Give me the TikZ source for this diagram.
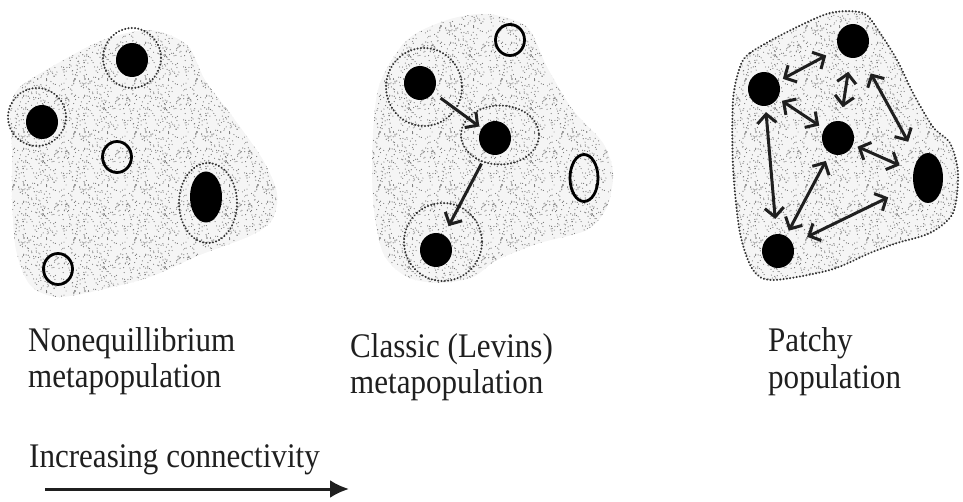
\documentclass[tikz,border=0pt]{standalone}
\usepackage{fontspec}
\setmainfont[FakeStretch=0.9]{Liberation Serif}
\usetikzlibrary{arrows.meta,shapes.geometric,patterns}

% a tile of scattered fine dots, used as the habitat texture
\pgfdeclarepatternformonly{speckle}{\pgfpointorigin}{\pgfpoint{61pt}{53pt}}{\pgfpoint{61pt}{53pt}}{%
  \pgfmathsetseed{5}%
  \foreach \k in {1,...,230}{%
    \pgfmathsetmacro\sx{rnd*61}%
    \pgfmathsetmacro\sy{rnd*53}%
    \pgfpathcircle{\pgfpoint{\sx pt}{\sy pt}}{0.6pt}%
    \pgfusepath{fill}}}

\tikzset{
  habitat/.style={fill=black!4},
  speck/.style={pattern=speckle, pattern color=black!55},
  patchfull/.style={ellipse, fill=black, inner sep=0pt,
    minimum width=32pt, minimum height=34pt},
  patchempty/.style={ellipse, draw=black, line width=2.8pt, inner sep=0pt,
    minimum width=29pt, minimum height=31pt},
  ringdot/.style={draw=black!80, line width=2.2pt,
    dash pattern=on 0.1pt off 3.2pt, line cap=round},
  barb/.tip={Straight Barb[length=9pt,width=19pt,line width=3pt]},
  flow/.style={-barb, line width=3pt, draw=black!88},
  flowboth/.style={barb-barb, line width=3pt, draw=black!88},
  caption/.style={anchor=base west, align=left, inner sep=0pt,
    text=black!88, font=\fontsize{34.5}{36}\selectfont},
}

\begin{document}
\begin{tikzpicture}[x=1pt,y=-1pt]
\useasboundingbox (0,0) rectangle (963,502);

% ---------- left panel: nonequilibrium metapopulation ----------
\def\blobA{(20,87) (60,62) (103,40) (150,30) (187,45) (205,80) (235,120)
  (263,160) (277,193) (272,220) (250,236) (200,255) (150,277) (100,290)
  (57,297) (30,285) (16,250) (12,200) (12,150) (10,110)}
\fill[habitat] plot[smooth cycle] coordinates {\blobA};
\fill[speck] plot[smooth cycle] coordinates {\blobA};

\draw[ringdot] (132,58) circle[x radius=29, y radius=30];
\draw[ringdot] (37,117) circle[x radius=29, y radius=29];
\draw[ringdot] (208,203) circle[x radius=29, y radius=40];

\node[patchfull] (a1) at (132,60) {};
\node[patchfull] (a2) at (42,122) {};
\node[patchfull, minimum height=51pt] (a3) at (206,197) {};
\node[patchempty] (a4) at (117,157) {};
\node[patchempty] (a5) at (58,269) {};

% ---------- middle panel: classic (Levins) metapopulation ----------
\def\blobB{(447,20) (487,14) (527,27) (547,67) (573,110) (603,143)
  (613,173) (607,207) (587,230) (540,243) (497,260) (473,277) (440,283)
  (407,277) (383,253) (373,200) (373,133) (380,83) (407,40)}
\fill[habitat] plot[smooth cycle] coordinates {\blobB};
\fill[speck] plot[smooth cycle] coordinates {\blobB};

\draw[ringdot] (424,87) circle[x radius=38, y radius=39];
\draw[ringdot] (500,135) circle[x radius=39, y radius=29.5];
\draw[ringdot] (443,242) circle[x radius=39, y radius=39];

\node[patchempty] (b0) at (510,40) {};
\node[patchfull] (b1) at (420,83) {};
\node[patchfull] (b2) at (495,138) {};
\node[patchfull] (b3) at (436,250) {};
\node[patchempty, minimum width=28pt, minimum height=47pt] (b4) at (584,178) {};

\draw[flow, shorten <=9pt, shorten >=3pt] (b1) -- (b2);
\draw[flow, shorten <=12pt, shorten >=10pt] (b2) -- (b3);

% ---------- right panel: patchy population ----------
\def\blobC{(740,67) (750,53) (787,32) (830,13) (863,13) (878,30) (897,60)
  (913,93) (933,127) (950,143) (958,173) (953,213) (930,233) (897,243)
  (870,253) (830,270) (773,280) (753,270) (740,233) (733,167) (733,100)}
\fill[habitat] plot[smooth cycle] coordinates {\blobC};
\fill[speck] plot[smooth cycle] coordinates {\blobC};
\draw[ringdot] plot[smooth cycle] coordinates {\blobC};

\node[patchfull] (c1) at (853,41) {};
\node[patchfull] (c2) at (764,89) {};
\node[patchfull] (c3) at (838,138) {};
\node[patchfull, minimum width=30pt, minimum height=50pt] (c4) at (928,178) {};
\node[patchfull] (c5) at (778,251) {};

\draw[flowboth, shorten <=5pt,  shorten >=14pt] (c2) -- (c1);
\draw[flowboth, shorten <=14pt, shorten >=14pt] (c1) -- (c3);
\draw[flowboth, shorten <=20pt, shorten >=20pt] (c1) -- (c4);
\draw[flowboth, shorten <=5pt,  shorten >=6pt]  (c2) -- (c3);
\draw[flowboth, shorten <=6pt,  shorten >=15pt] (c2) -- (c5);
\draw[flowboth, shorten <=5pt,  shorten >=15pt] (c3) -- (c4);
\draw[flowboth, shorten <=9pt,  shorten >=6pt]  (c3) -- (c5);
\draw[flowboth, shorten <=28pt, shorten >=16pt] (c4) -- (c5);

% ---------- captions (base anchor sits on the last line) ----------
\node[caption] (t1) at (28,387) {Nonequillibrium\\metapopulation};
\node[caption] (t2) at (350,393) {Classic (Levins)\\metapopulation};
\node[caption] (t3) at (768,388) {Patchy\\population};

\node[caption] (t4) at (29,467) {Increasing connectivity};
\coordinate (g0) at (45,489);
\coordinate (g1) at (349,489);
\draw[line width=3pt, draw=black!88, -{Latex[length=19pt,width=18pt]}] (g0) -- (g1);

\end{tikzpicture}
\end{document}
